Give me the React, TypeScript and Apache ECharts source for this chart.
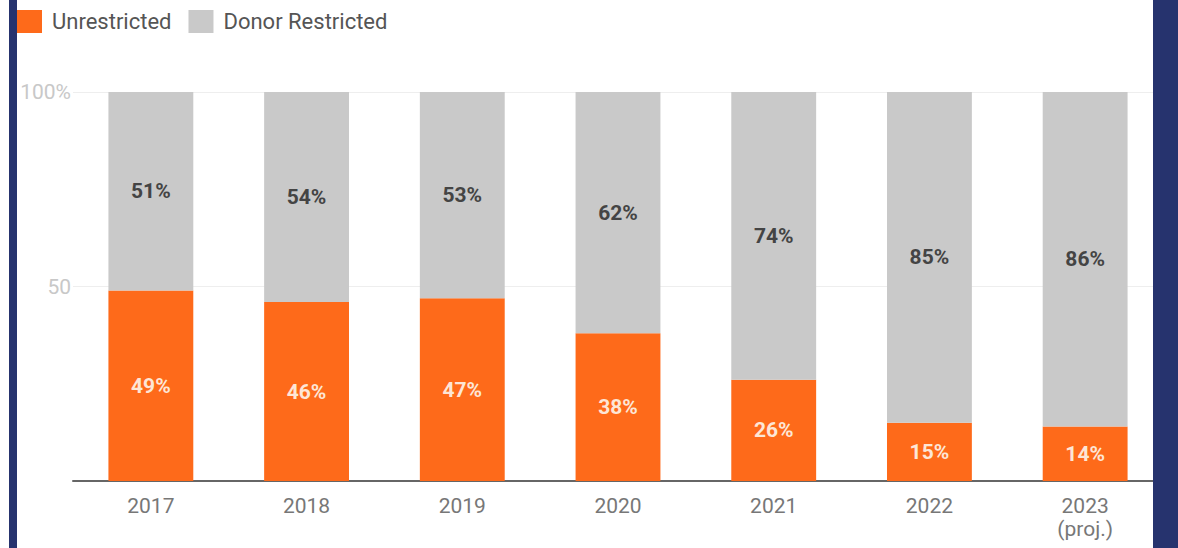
import React, { useEffect, useRef } from "react";
import * as echarts from "echarts";

const years = ["2017", "2018", "2019", "2020", "2021", "2022", "2023\n(proj.)"];
const unrestricted = [49, 46, 47, 38, 26, 15, 14];
const donorRestricted = [51, 54, 53, 62, 74, 85, 86];
const yTickLabels: Record<number, string> = { 0: "", 50: "50", 100: "100%" };

export default function App() {
  const ref = useRef<HTMLDivElement>(null);
  useEffect(() => {
    if (!ref.current) return;
    const chart = echarts.init(ref.current, undefined, { renderer: "svg" });
    chart.setOption({
      animation: false,
      backgroundColor: "#ffffff",
      textStyle: { fontFamily: "Roboto" },
      legend: {
        left: 17,
        top: 10,
        padding: 0,
        itemWidth: 25,
        itemHeight: 23,
        itemGap: 17,
        icon: "rect",
        textStyle: { fontSize: 22, color: "#555", fontFamily: "Roboto", padding: [0, 0, 0, 5] },
        data: ["Unrestricted", "Donor Restricted"],
      },
      grid: { left: 73, right: 15, top: 92, bottom: 67 },
      xAxis: {
        type: "category",
        data: years,
        axisTick: { show: false },
        axisLine: { lineStyle: { color: "#666", width: 2 } },
        axisLabel: { fontSize: 21, color: "#777", margin: 13, lineHeight: 23, fontFamily: "Roboto" },
      },
      yAxis: {
        type: "value",
        min: 0,
        max: 100,
        interval: 50,
        axisLine: { show: false },
        axisTick: { show: false },
        axisLabel: {
          fontSize: 21,
          color: "#c8c8c8",
          margin: 2,
          fontFamily: "Roboto",
          formatter: (v: number) => yTickLabels[v] ?? "",
        },
        splitLine: { lineStyle: { color: "#eeeeee", width: 1 } },
      },
      series: [
        {
          name: "Unrestricted",
          type: "bar",
          stack: "total",
          barWidth: "54.5%",
          data: unrestricted,
          itemStyle: { color: "#fe6a1a" },
          label: {
            show: true,
            position: "inside",
            formatter: "{c}%",
            fontSize: 21,
            fontWeight: "bold",
            color: "#fde6d6",
            fontFamily: "Roboto",
          },
        },
        {
          name: "Donor Restricted",
          type: "bar",
          stack: "total",
          barWidth: "54.5%",
          data: donorRestricted,
          itemStyle: { color: "#c9c9c9" },
          label: {
            show: true,
            position: "inside",
            formatter: "{c}%",
            fontSize: 21,
            fontWeight: "bold",
            color: "#444",
            fontFamily: "Roboto",
          },
        },
      ],
      graphic: [
        { type: "rect", z: 100, shape: { x: 9, y: 0, width: 8, height: 548 }, style: { fill: "#26336e" } },
        { type: "rect", z: 100, shape: { x: 1153, y: 0, width: 25, height: 548 }, style: { fill: "#26336e" } },
      ],
    });
    return () => chart.dispose();
  }, []);
  return (
    <div
      ref={ref}
      style={{ position: "fixed", left: 0, top: 0, width: 1178, height: 548, background: "#fff" }}
    />
  );
}
